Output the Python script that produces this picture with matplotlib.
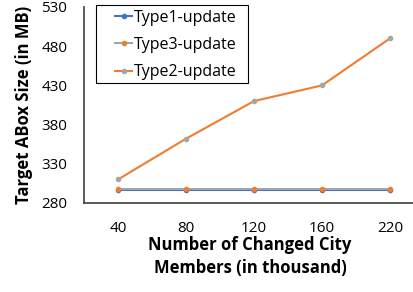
import matplotlib.pyplot as plt
from matplotlib.patches import Rectangle

# 数据
CATEGORIES = ['40', '80', '120', '160', '220']
TYPE1 = [297, 297, 297, 297, 297]
TYPE3 = [298, 298, 298, 298, 298]
TYPE2 = [310, 362, 410, 430, 490]
Y_TICKS = [280, 330, 380, 430, 480, 530]

plt.rcParams['font.family'] = ['Open Sans', 'DejaVu Sans']

W, H = 413, 292
fig = plt.figure(figsize=(W / 100, H / 100), dpi=100)
ax = fig.add_axes([84 / W, 1 - 203 / H, 340 / W, 196 / H])

x = range(len(CATEGORIES))
ax.plot(x, TYPE1, color='#4472C4', marker='o', markersize=3, lw=1.5, label='Type1-update')
ax.plot(x, TYPE3, color='#A5A5A5', marker='o', markersize=3, lw=1.5,
        markerfacecolor='#ED7D31', markeredgecolor='#ED7D31', label='Type3-update')
ax.plot(x, TYPE2, color='#ED7D31', marker='o', markersize=3, lw=1.5,
        markerfacecolor='#A5A5A5', markeredgecolor='#A5A5A5', label='Type2-update')

ax.set_xlim(-0.5, 4.5)
ax.set_ylim(280, 530)
ax.set_xticks(list(x))
ax.set_xticklabels(CATEGORIES)
ax.set_yticks(Y_TICKS)
ax.tick_params(length=0, labelsize=11)
ax.tick_params(axis='y', pad=12)
ax.tick_params(axis='x', pad=13)
for side in ['top', 'right']:
    ax.spines[side].set_visible(False)
for side in ['left', 'bottom']:
    ax.spines[side].set_color('#404040')
    ax.spines[side].set_linewidth(1.2)

ax.set_xlabel('Number of Changed City\nMembers (in thousand)', fontsize=12,
              fontweight='bold', linespacing=1.3)
ax.xaxis.set_label_coords((250 - 84) / 340, -0.17)
ax.set_ylabel('Target ABox Size (in MB)', fontsize=12, fontweight='bold')
ax.yaxis.set_label_coords(-0.15, 0.5)

# 图例内容（无边框），边框另画
ax.legend(loc='upper left', bbox_to_anchor=((110 - 84) / 340, 1 + 2 / 196),
          fontsize=11.5, frameon=False, handlelength=1.1, handletextpad=0.1,
          borderpad=0.3, labelspacing=0.7, borderaxespad=0)
fig.add_artist(Rectangle((96 / W, 1 - 83 / H), 152 / W, 78 / H,
                         transform=fig.transFigure, fill=False,
                         edgecolor='black', linewidth=0.8))

fig.savefig('out.png', dpi=100)
